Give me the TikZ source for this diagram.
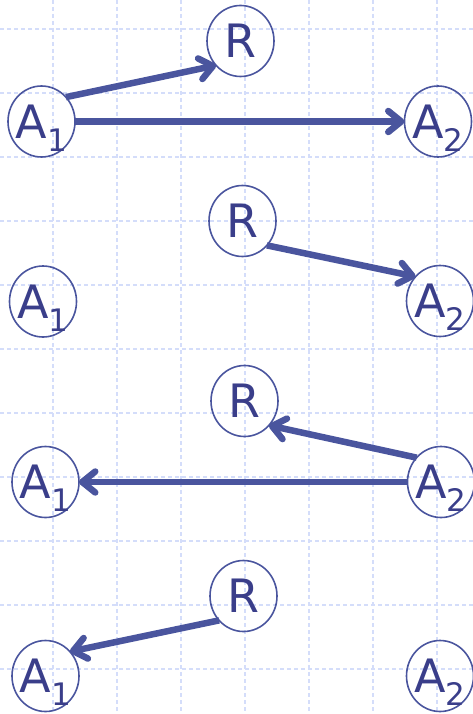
\documentclass[tikz,border=0pt]{standalone}
\usepackage{fontspec}
\setmainfont{DejaVu Sans}
\usetikzlibrary{arrows.meta,shapes.geometric}
\definecolor{gridc}{HTML}{D4DDFA}
\definecolor{linec}{HTML}{4A559E}
\definecolor{textc}{HTML}{3A3E8A}
\newcommand{\Asub}[1]{\makebox[0pt]{A\smash{\raisebox{-13pt}{\fontsize{31}{31}\selectfont #1}}}}
\newcommand{\Rtxt}{\makebox[0pt]{R}}
\begin{document}
\begin{tikzpicture}[x=1pt,y=-1pt,
  agent/.style={ellipse,draw=linec,line width=1.6pt,minimum width=67pt,minimum height=71pt,
    inner sep=0pt,outer sep=0pt,text=textc,font=\fontsize{46}{46}\selectfont},
  flow/.style={draw=linec,line width=6.5pt,-{Straight Barb[length=13pt,width=21pt,round]}},
  gridline/.style={draw=gridc,line width=1.5pt,dash pattern=on 4pt off 3pt}]
\useasboundingbox (0,0) rectangle (473,714);
\foreach \x in {53,117,...,437} \draw[gridline] (\x,0) -- (\x,714);
\foreach \y in {29,93,...,669} \draw[gridline] (0,\y) -- (473,\y);
% row 1
\node[agent] (a1r1) at (41.5,121.5) {\Asub{1}};
\node[agent] (rr1) at (240.5,41) {\Rtxt};
\node[agent] (a2r1) at (438,121.5) {\Asub{2}};
% row 2
\node[agent] (a1r2) at (43,301.5) {\Asub{1}};
\node[agent] (rr2) at (242.5,221) {\Rtxt};
\node[agent] (a2r2) at (440,301) {\Asub{2}};
% row 3
\node[agent] (a1r3) at (45.5,482) {\Asub{1}};
\node[agent] (rr3) at (244.5,401) {\Rtxt};
\node[agent] (a2r3) at (441,482) {\Asub{2}};
% row 4
\node[agent] (a1r4) at (45.5,676) {\Asub{1}};
\node[agent] (rr4) at (243.5,596) {\Rtxt};
\node[agent] (a2r4) at (440,676) {\Asub{2}};
% connectors
\draw[flow] (a1r1.45) -- (rr1.225);
\draw[flow] (a1r1.east) -- (a2r1.west);
\draw[flow] (rr2.315) -- (a2r2.135);
\draw[flow] (a2r3.135) -- (rr3.315);
\draw[flow] (a2r3.west) -- (a1r3.east);
\draw[flow] (rr4.225) -- (a1r4.45);
\end{tikzpicture}
\end{document}
